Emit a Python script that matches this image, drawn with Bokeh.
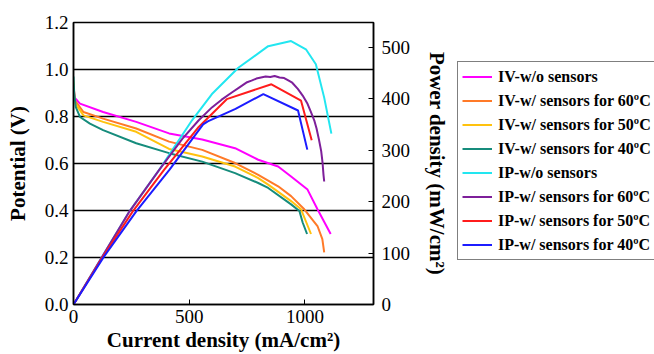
from bokeh.plotting import figure
from bokeh.layouts import row
from bokeh.models import Range1d, LinearAxis, FixedTicker, Legend, LegendItem, NumeralTickFormatter
from bokeh.embed import file_html
from bokeh.resources import INLINE

# ---- Data (current density mA/cm2, potential V) ----
iv_wo_x = [0, 5, 28, 128, 271, 413, 556, 698, 798, 884, 940, 1011, 1054, 1111]
iv_wo_y = [0.93, 0.88, 0.855, 0.819, 0.777, 0.728, 0.702, 0.665, 0.616, 0.587, 0.545, 0.489, 0.405, 0.30]

iv_60_x = [0, 5, 43, 128, 271, 413, 556, 698, 798, 884, 940, 997, 1054, 1075, 1083]
iv_60_y = [0.94, 0.87, 0.819, 0.791, 0.749, 0.693, 0.658, 0.602, 0.552, 0.503, 0.461, 0.405, 0.334, 0.278, 0.222]

iv_50_x = [0, 5, 43, 128, 271, 413, 556, 698, 798, 841, 940, 983, 1026]
iv_50_y = [0.95, 0.86, 0.805, 0.777, 0.735, 0.662, 0.63, 0.587, 0.538, 0.51, 0.44, 0.405, 0.30]

iv_40_x = [0, 3, 10, 28, 71, 128, 271, 413, 556, 698, 798, 841, 940, 976, 990, 1009]
iv_40_y = [0.97, 0.90, 0.84, 0.798, 0.77, 0.742, 0.686, 0.644, 0.608, 0.559, 0.517, 0.496, 0.426, 0.398, 0.349, 0.30]

# ---- Data (current density mA/cm2, power density mW/cm2) ----
ip_wo_x = [0, 242, 371, 512, 598, 712, 841, 940, 1004, 1047, 1083, 1114]
ip_wo_y = [0, 181, 262, 358, 409, 460, 502, 512, 496, 467, 402, 332]

ip_60_x = [0, 120, 242, 371, 470, 541, 598, 640, 684, 720, 750, 769, 790, 810, 830, 850, 869, 890, 910,
           926, 945, 969, 990, 1011, 1025, 1040, 1050, 1061, 1070, 1076, 1080, 1083]
ip_60_y = [0, 90, 181, 262, 322, 358, 383, 398, 412, 423, 432, 435, 439, 441, 443, 442, 444, 441, 440,
           436, 431, 419, 406, 390, 375, 358, 342, 319, 298, 275, 252, 239]

ip_50_x = [0, 130, 256, 392, 541, 662, 855, 983, 1029]
ip_50_y = [0, 95, 181, 262, 345, 399, 428, 396, 319]

ip_40_x = [0, 130, 271, 415, 560, 580, 700, 820, 970, 1010]
ip_40_y = [0, 92, 181, 262, 350, 356, 380, 409, 377, 301]

labels = ["IV-w/o sensors", "IV-w/ sensors for 60ºC", "IV-w/ sensors for 50ºC", "IV-w/ sensors for 40ºC",
          "IP-w/o sensors", "IP-w/ sensors for 60ºC", "IP-w/ sensors for 50ºC", "IP-w/ sensors for 40ºC"]
colors = ["#ff00ff", "#ff7a28", "#ffc20e", "#168c7c", "#22e6f0", "#7e1f9a", "#ff1c1c", "#1c1cff"]

x_ticks = [0, 500, 1000]
v_ticks = [0.0, 0.2, 0.4, 0.6, 0.8, 1.0, 1.2]
p_ticks = [0, 100, 200, 300, 400, 500]

SERIF = "Liberation Serif"

p = figure(width=452, height=354, output_backend="svg", toolbar_location=None,
           x_range=Range1d(0, 1296), y_range=Range1d(0, 1.2),
           min_border_left=73, min_border_right=76, min_border_top=22, min_border_bottom=48)
p.extra_y_ranges = {"pw": Range1d(0, 548)}
p.background_fill_color = "white"
p.border_fill_color = "white"
p.outline_line_color = "black"
p.outline_line_width = 1.5
p.outline_line_alpha = 1

p.xgrid.visible = False
p.ygrid.ticker = FixedTicker(ticks=[0.2, 0.4, 0.6, 0.8, 1.0])
p.ygrid.grid_line_color = "black"
p.ygrid.grid_line_width = 1.5
p.ygrid.grid_line_alpha = 1

def style_axis(ax):
    ax.major_label_text_font = SERIF
    ax.major_label_text_font_size = "19px"
    ax.major_label_text_color = "black"
    ax.axis_label_text_font = SERIF
    ax.axis_label_text_font_style = "bold"
    ax.axis_label_text_font_size = "21px"
    ax.axis_label_text_color = "black"
    ax.axis_line_color = "black"
    ax.axis_line_width = 1.5
    ax.major_tick_line_color = "black"
    ax.minor_tick_line_color = None

xa = p.xaxis[0]
xa.ticker = FixedTicker(ticks=x_ticks)
xa.axis_label = "Current density (mA/cm²)"
style_axis(xa)
xa.major_tick_in = 5
xa.major_tick_out = 0
xa.major_label_standoff = 5
xa.axis_label_standoff = 2

ya = p.yaxis[0]
ya.ticker = FixedTicker(ticks=v_ticks)
ya.formatter = NumeralTickFormatter(format="0.0")
ya.axis_label = "Potential (V)"
style_axis(ya)
ya.major_tick_in = 0
ya.major_tick_out = 0
ya.major_label_standoff = 5
ya.axis_label_standoff = 12

ra = LinearAxis(y_range_name="pw", ticker=FixedTicker(ticks=p_ticks), axis_label="Power density (mW/cm²)")
style_axis(ra)
ra.major_tick_in = 5
ra.major_tick_out = 0
ra.major_label_standoff = 8
ra.axis_label_standoff = 12
p.add_layout(ra, "right")

series = [
    (iv_wo_x, iv_wo_y, "default"), (iv_60_x, iv_60_y, "default"),
    (iv_50_x, iv_50_y, "default"), (iv_40_x, iv_40_y, "default"),
    (ip_wo_x, ip_wo_y, "pw"), (ip_60_x, ip_60_y, "pw"),
    (ip_50_x, ip_50_y, "pw"), (ip_40_x, ip_40_y, "pw"),
]
for (xs, ys, rn), col in zip(series, colors):
    p.line(xs, ys, line_color=col, line_width=2, y_range_name=rn)

# legend panel (separate figure so the box can sit outside the plot frame);
# its ranges lie outside the data, so its lines only serve as legend keys
q = figure(width=202, height=354, output_backend="svg", toolbar_location=None,
           x_range=Range1d(-2, -1), y_range=Range1d(-2, -1),
           x_axis_location=None, y_axis_location=None,
           min_border_left=0, min_border_right=0, min_border_top=0, min_border_bottom=0)
q.outline_line_color = None
q.grid.visible = False
q.background_fill_color = "white"
q.border_fill_color = "white"
items = []
for (xs, ys, rn), lab, col in zip(series, labels, colors):
    r = q.line(xs, ys, line_color=col, line_width=2)
    items.append(LegendItem(label=lab, renderers=[r]))

leg = Legend(items=items, location=(5, 44))
leg.label_text_font = SERIF
leg.label_text_font_style = "bold"
leg.label_text_font_size = "16px"
leg.label_text_color = "black"
leg.glyph_width = 30
leg.glyph_height = 21
leg.label_height = 21
leg.spacing = 3
leg.padding = 4
leg.margin = 0
leg.label_standoff = 6
leg.border_line_color = "black"
leg.border_line_width = 1.5
leg.background_fill_color = "white"
leg.background_fill_alpha = 1
q.add_layout(leg, "center")

layout = row(p, q, spacing=0)
open("out.html", "w").write(file_html(layout, INLINE))
